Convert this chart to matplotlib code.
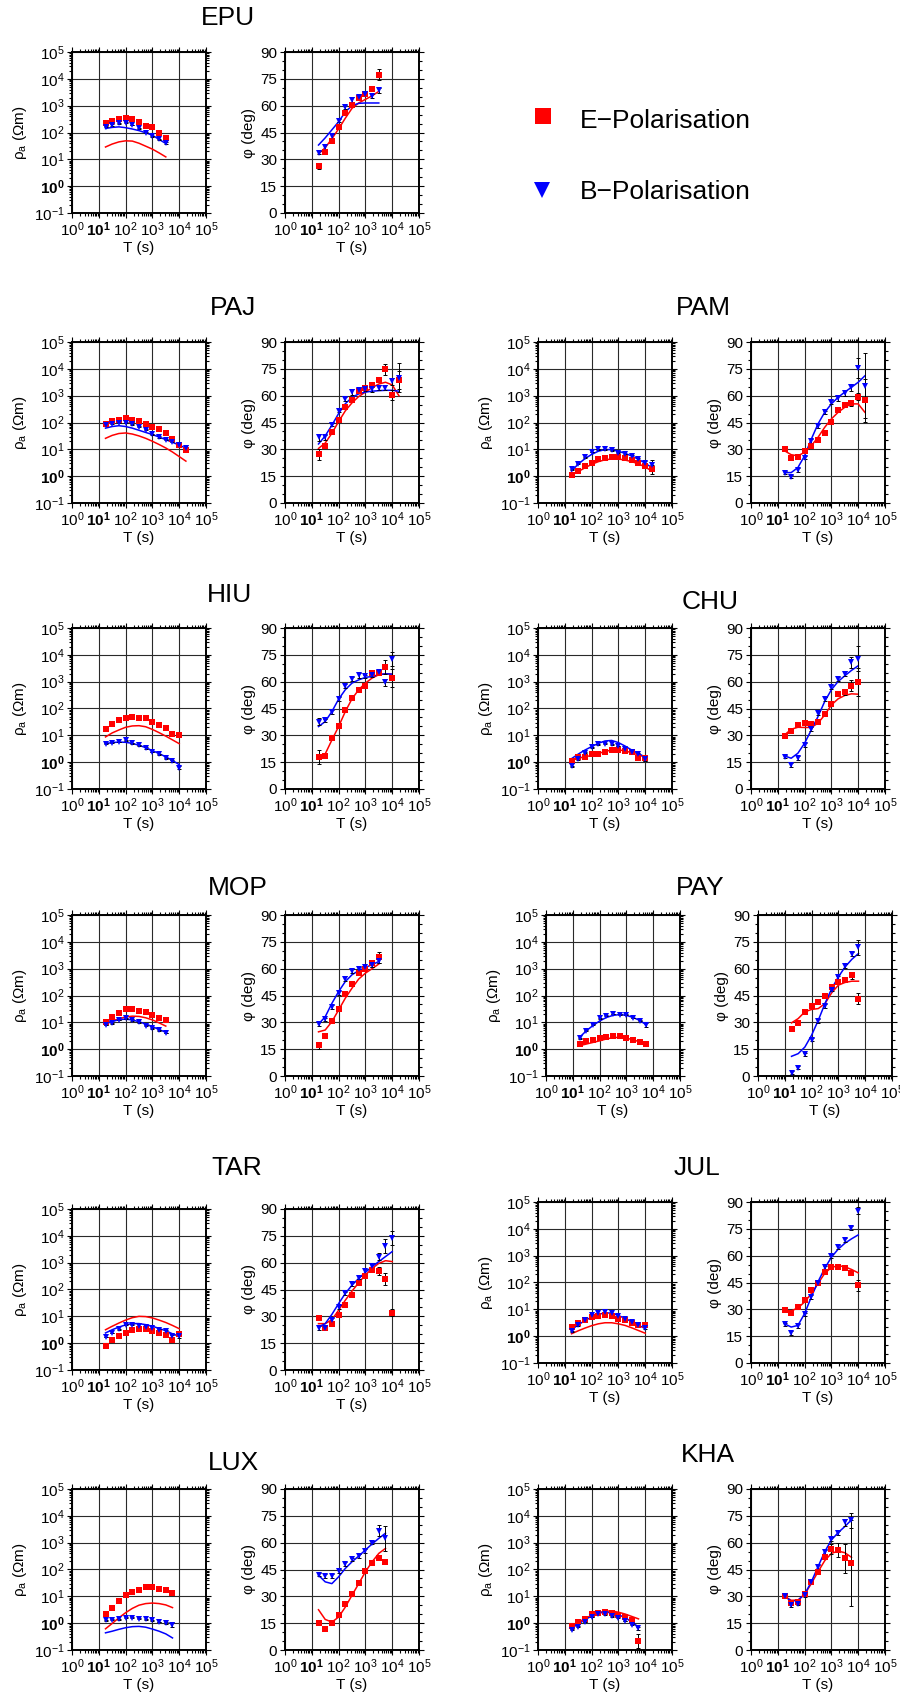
import numpy as np
import matplotlib
matplotlib.use("Agg")
import matplotlib.pyplot as plt
from matplotlib.lines import Line2D
from matplotlib.ticker import LogLocator, MultipleLocator, NullFormatter

plt.rcParams["font.family"] = ["Liberation Sans", "DejaVu Sans"]
plt.rcParams["mathtext.fontset"] = "custom"
plt.rcParams["mathtext.rm"] = "Liberation Sans"
plt.rcParams["mathtext.it"] = "Liberation Sans:italic"
plt.rcParams["mathtext.bf"] = "Liberation Sans:bold"

# periods (s), 4 per decade
PERIODS = [17.8, 31.6, 56.2, 100, 178, 316, 562, 1000, 1778, 3162, 5623, 10000, 17783]

# ---- data: log10 apparent resistivity (Ohm m), phase (deg), phase errors (deg)
EPU_RHO_E = [2.36, 2.44, 2.49, 2.53, 2.49, 2.40, 2.25, 2.19, 2.00, 1.78]
EPU_RHO_B = [2.21, 2.28, 2.34, 2.36, 2.28, 2.15, 1.99, 1.86, 1.74, 1.61]
EPU_MOD_RHO_E = [1.46, 1.57, 1.65, 1.69, 1.68, 1.60, 1.49, 1.38, 1.24, 1.09]
EPU_MOD_RHO_B = [2.15, 2.19, 2.21, 2.18, 2.13, 2.07, 1.99, 1.90, 1.74, 1.59]
EPU_PHI_E = [26.3, 33.9, 40.5, 47.8, 55.9, 60.3, 64.3, 66.6, 69.4, 77.3]
EPU_PHI_B = [33.8, 36.9, 43.1, 51.6, 59.3, 63.4, 64.9, 66.6, 65.3, 68.6]
EPU_MOD_PHI_E = [33.0, 36.5, 41.5, 47.0, 53.0, 58.5, 61.5, 63.5, 65.5, 68.0]
EPU_MOD_PHI_B = [38.0, 42.0, 46.5, 51.0, 56.5, 60.0, 61.3, 61.5, 61.5, 61.5]
EPU_DPHI_E = [1.5, 1, 1, 1, 1, 1, 1, 1, 1, 3]
EPU_DPHI_B = [1, 1.5, 1, 1, 1, 1.5, 1.5, 1, 1, 1.5]

PAJ_RHO_E = [1.94, 2.04, 2.09, 2.15, 2.10, 2.06, 1.95, 1.84, 1.74, 1.60, 1.40, 1.18, 0.98]
PAJ_RHO_B = [1.89, 1.96, 2.00, 2.00, 1.94, 1.85, 1.73, 1.56, 1.46, 1.36, 1.29, 1.16, 1.06]
PAJ_MOD_RHO_E = [1.41, 1.52, 1.59, 1.61, 1.57, 1.50, 1.41, 1.30, 1.18, 1.05, 0.90, 0.73, 0.56]
PAJ_MOD_RHO_B = [1.79, 1.85, 1.88, 1.85, 1.79, 1.71, 1.63, 1.55, 1.46, 1.36, 1.26, 1.16, 1.04]
PAJ_PHI_E = [27.3, 31.8, 39.7, 46.4, 53.5, 57.6, 62.5, 64.4, 65.7, 68.9, 74.8, 60.4, 68.9]
PAJ_PHI_B = [36.7, 36.7, 43.8, 51.6, 58.2, 62.1, 63.4, 63.6, 63.6, 64.4, 64.4, 68.1, 70.0]
PAJ_MOD_PHI_E = [30.5, 33.5, 39.0, 45.5, 51.5, 56.0, 59.5, 62.0, 64.5, 66.5, 67.5, 66.0, 60.0]
PAJ_MOD_PHI_B = [33.0, 37.5, 43.5, 50.0, 55.5, 59.0, 61.0, 62.0, 62.5, 62.8, 63.0, 63.0, 62.5]
PAJ_DPHI_E = [3, 1, 1, 1, 1, 1, 1, 1, 1, 1.5, 3, 3, 5]
PAJ_DPHI_B = [2, 1.5, 1, 1, 1, 1.5, 1.5, 1, 1.5, 1.5, 1.5, 2, 8]

PAM_RHO_E = [0.06, 0.21, 0.38, 0.50, 0.63, 0.66, 0.73, 0.73, 0.69, 0.59, 0.50, 0.38, 0.25]
PAM_RHO_B = [0.25, 0.46, 0.71, 0.90, 1.00, 1.00, 0.96, 0.88, 0.81, 0.75, 0.63, 0.50, 0.40]
PAM_MOD_RHO_E = [0.04, 0.17, 0.31, 0.44, 0.54, 0.61, 0.64, 0.64, 0.60, 0.54, 0.46, 0.34, 0.19]
PAM_MOD_RHO_B = [0.19, 0.45, 0.65, 0.81, 0.93, 0.99, 0.99, 0.93, 0.85, 0.75, 0.63, 0.48, 0.32]
PAM_PHI_E = [30.1, 25.1, 25.8, 29.2, 32.0, 35.2, 39.1, 45.5, 52.2, 54.8, 55.9, 59.5, 57.3]
PAM_PHI_B = [17.0, 14.8, 18.5, 25.4, 34.8, 43.2, 50.7, 56.3, 58.6, 61.4, 64.7, 75.4, 65.6]
PAM_MOD_PHI_E = [29.2, 27.0, 26.4, 28.3, 32.0, 36.7, 42.3, 47.0, 50.7, 53.5, 55.4, 55.4, 50.7]
PAM_MOD_PHI_B = [17.0, 17.0, 19.8, 26.4, 35.7, 44.2, 50.7, 55.4, 59.1, 62.0, 64.7, 67.5, 71.1]
PAM_DPHI_E = [1, 1, 1, 1, 1, 1, 1, 1, 1, 1, 1.5, 2, 12]
PAM_DPHI_B = [1, 1, 1, 1, 1, 1, 1, 1, 1.5, 1.5, 2, 5.5, 18]

HIU_RHO_E = [1.25, 1.44, 1.56, 1.66, 1.69, 1.66, 1.63, 1.50, 1.40, 1.29, 1.04, 1.03]
HIU_RHO_B = [0.69, 0.73, 0.75, 0.81, 0.71, 0.63, 0.53, 0.38, 0.29, 0.15, 0.04, -0.21]
HIU_MOD_RHO_E = [0.94, 1.09, 1.20, 1.30, 1.35, 1.36, 1.32, 1.22, 1.10, 0.97, 0.83, 0.69]
HIU_MOD_RHO_B = [0.69, 0.73, 0.75, 0.74, 0.70, 0.63, 0.54, 0.43, 0.32, 0.20, 0.06, -0.09]
HIU_PHI_E = [17.7, 18.7, 28.4, 35.3, 43.9, 50.8, 55.5, 57.7, 64.8, 64.8, 68.2, 62.0]
HIU_PHI_B = [37.7, 38.3, 42.9, 50.2, 57.7, 61.4, 63.5, 62.9, 63.5, 65.2, 59.6, 72.6]
HIU_MOD_PHI_E = [17.2, 19.6, 27.4, 34.9, 43.3, 50.4, 55.5, 59.2, 62.0, 63.9, 64.4, 64.2]
HIU_MOD_PHI_B = [34.9, 37.7, 43.3, 50.2, 55.5, 59.2, 61.0, 62.4, 62.9, 63.9, 64.4, 64.2]
HIU_DPHI_E = [4, 1, 1, 1, 1, 1, 1, 1, 1, 1, 4, 5]
HIU_DPHI_B = [2, 1, 1, 1, 1, 1, 1.5, 1, 1, 1, 2, 4]

CHU_RHO_E = [0.06, 0.19, 0.21, 0.29, 0.31, 0.38, 0.44, 0.44, 0.41, 0.38, 0.16, 0.16]
CHU_RHO_B = [-0.15, 0.10, 0.35, 0.56, 0.66, 0.69, 0.66, 0.60, 0.48, 0.38, 0.29, 0.13]
CHU_MOD_RHO_E = [0.10, 0.15, 0.20, 0.25, 0.32, 0.40, 0.45, 0.46, 0.42, 0.35, 0.27, 0.19]
CHU_MOD_RHO_B = [0.13, 0.30, 0.45, 0.58, 0.70, 0.79, 0.81, 0.73, 0.60, 0.45, 0.32, 0.19]
CHU_PHI_E = [29.7, 32.5, 35.9, 36.8, 36.2, 37.7, 41.8, 47.4, 53.2, 54.1, 57.7, 59.8]
CHU_PHI_B = [18.1, 13.4, 17.2, 24.6, 33.4, 42.4, 50.4, 56.9, 61.4, 64.4, 70.8, 72.8]
CHU_MOD_PHI_E = [30.2, 33.4, 34.5, 34.4, 34.4, 36.8, 41.4, 47.0, 50.4, 52.3, 53.2, 53.0]
CHU_MOD_PHI_B = [18.5, 17.2, 20.0, 25.6, 33.0, 40.5, 48.9, 55.5, 60.1, 63.3, 66.3, 68.9]
CHU_DPHI_E = [1, 1, 1, 1, 1, 1, 1, 1, 1, 1.5, 3, 8]
CHU_DPHI_B = [1, 1, 1, 1, 1, 1, 1, 1, 1, 1.5, 3, 7]

MOP_RHO_E = [1.00, 1.21, 1.35, 1.48, 1.48, 1.44, 1.38, 1.29, 1.16, 1.09]
MOP_RHO_B = [0.90, 0.96, 1.09, 1.15, 1.09, 1.00, 0.88, 0.78, 0.71, 0.60]
MOP_MOD_RHO_E = [0.96, 1.05, 1.13, 1.20, 1.23, 1.22, 1.17, 1.09, 0.98, 0.86]
MOP_MOD_RHO_B = [0.94, 1.03, 1.10, 1.12, 1.09, 1.02, 0.94, 0.84, 0.73, 0.63]
MOP_PHI_E = [17.2, 22.2, 30.8, 37.2, 45.7, 51.2, 57.3, 59.6, 63.0, 66.3]
MOP_PHI_B = [29.0, 31.7, 38.6, 46.5, 54.5, 58.6, 59.8, 60.7, 62.0, 64.4]
MOP_MOD_PHI_E = [24.7, 25.7, 30.4, 36.9, 43.5, 49.1, 54.2, 57.5, 60.0, 62.6]
MOP_MOD_PHI_B = [29.0, 33.1, 40.6, 47.2, 52.8, 56.6, 58.9, 60.7, 62.2, 64.0]
MOP_DPHI_E = [2, 1, 1, 1, 1, 1, 1, 1, 2, 3]
MOP_DPHI_B = [1, 1, 1, 1, 1.5, 1, 1, 1, 1, 1]

PAY_RHO_E = [0.19, 0.29, 0.35, 0.41, 0.46, 0.50, 0.48, 0.41, 0.34, 0.28, 0.19]
PAY_RHO_B = [0.41, 0.69, 0.91, 1.15, 1.25, 1.31, 1.29, 1.28, 1.16, 1.06, 0.90]
PAY_MOD_RHO_E = [0.13, 0.19, 0.25, 0.31, 0.38, 0.43, 0.44, 0.41, 0.35, 0.27, 0.16]
PAY_MOD_RHO_B = [0.44, 0.68, 0.88, 1.05, 1.18, 1.26, 1.29, 1.26, 1.18, 1.07, 0.90]
PAY_PHI_E = [26.5, 29.9, 35.9, 39.2, 41.4, 44.8, 49.5, 52.6, 53.9, 56.3, 43.3]
PAY_PHI_B = [1.9, 4.7, 12.1, 20.3, 30.6, 39.0, 48.3, 55.1, 61.4, 68.1, 71.9]
PAY_MOD_PHI_E = [29.7, 32.1, 35.9, 37.2, 37.7, 40.5, 46.5, 50.8, 52.3, 53.0, 53.0]
PAY_MOD_PHI_B = [11.0, 12.5, 16.2, 22.8, 31.2, 40.5, 48.9, 55.4, 61.0, 65.2, 68.5]
PAY_DPHI_E = [1, 1, 1, 1, 1, 1, 1, 1, 1, 2, 3]
PAY_DPHI_B = [1, 1, 1, 1, 1, 1, 1, 1, 1, 1, 4]

TAR_RHO_E = [-0.09, 0.10, 0.25, 0.39, 0.48, 0.51, 0.51, 0.44, 0.39, 0.29, 0.13, 0.35]
TAR_RHO_B = [0.23, 0.38, 0.51, 0.69, 0.69, 0.64, 0.60, 0.56, 0.50, 0.45, 0.25, 0.25]
TAR_MOD_RHO_E = [0.50, 0.63, 0.75, 0.86, 0.95, 1.00, 0.99, 0.94, 0.86, 0.77, 0.66, 0.54]
TAR_MOD_RHO_B = [0.38, 0.50, 0.60, 0.68, 0.73, 0.73, 0.69, 0.63, 0.55, 0.46, 0.35, 0.25]
TAR_PHI_E = [29.3, 23.4, 25.9, 30.6, 36.6, 42.2, 48.4, 52.5, 55.9, 55.3, 50.8, 32.1]
TAR_PHI_B = [23.4, 23.6, 28.1, 35.3, 42.8, 48.0, 51.6, 55.3, 58.1, 63.4, 69.4, 73.7]
TAR_MOD_PHI_E = [25.9, 25.9, 28.1, 33.4, 39.0, 44.1, 48.8, 53.1, 56.8, 59.6, 61.1, 60.6]
TAR_MOD_PHI_B = [24.0, 25.9, 31.1, 37.1, 42.8, 47.4, 51.2, 54.6, 57.8, 60.6, 63.4, 66.2]
TAR_DPHI_E = [1, 1, 1, 1, 1, 1, 1, 1, 1, 2, 3.5, 2]
TAR_DPHI_B = [1, 1, 1, 1, 1, 1, 1, 1, 1.5, 2, 4, 4]

JUL_RHO_E = [0.36, 0.49, 0.61, 0.71, 0.75, 0.78, 0.75, 0.65, 0.59, 0.50, 0.43, 0.40]
JUL_RHO_B = [0.18, 0.40, 0.59, 0.78, 0.86, 0.90, 0.86, 0.75, 0.65, 0.53, 0.43, 0.30]
JUL_MOD_RHO_E = [0.09, 0.20, 0.30, 0.39, 0.46, 0.50, 0.50, 0.46, 0.40, 0.31, 0.21, 0.11]
JUL_MOD_RHO_B = [0.24, 0.42, 0.58, 0.71, 0.81, 0.87, 0.86, 0.77, 0.66, 0.54, 0.41, 0.28]
JUL_PHI_E = [29.8, 28.1, 31.3, 35.4, 40.7, 45.0, 50.6, 53.8, 53.8, 52.9, 50.1, 43.5]
JUL_PHI_B = [21.6, 16.9, 20.6, 27.2, 36.9, 44.8, 53.4, 59.8, 64.7, 68.8, 75.4, 85.1]
JUL_MOD_PHI_E = [29.4, 29.1, 30.8, 34.1, 38.8, 44.4, 50.1, 53.4, 54.4, 53.8, 52.3, 50.4]
JUL_MOD_PHI_B = [21.9, 20.1, 21.0, 27.6, 36.9, 45.4, 52.9, 59.1, 63.6, 66.9, 69.4, 71.6]
JUL_DPHI_E = [1, 1, 1, 1, 1, 1, 1, 1, 1, 1, 1, 3]
JUL_DPHI_B = [1, 1, 1, 1, 1, 1, 1, 1, 1, 1, 1, 2]

LUX_RHO_E = [0.35, 0.58, 0.83, 1.04, 1.16, 1.25, 1.33, 1.33, 1.29, 1.25, 1.13]
LUX_RHO_B = [0.10, 0.13, 0.14, 0.20, 0.20, 0.16, 0.14, 0.10, 0.04, 0.01, -0.05]
LUX_MOD_RHO_E = [-0.21, -0.01, 0.20, 0.39, 0.55, 0.67, 0.73, 0.75, 0.73, 0.68, 0.58]
LUX_MOD_RHO_B = [-0.36, -0.30, -0.23, -0.17, -0.13, -0.12, -0.15, -0.22, -0.30, -0.40, -0.55]
LUX_PHI_E = [15.0, 11.8, 15.0, 19.3, 25.5, 31.1, 37.7, 44.3, 48.9, 51.2, 49.3]
LUX_PHI_B = [42.2, 41.3, 41.3, 44.3, 48.0, 50.6, 52.7, 55.3, 60.0, 66.6, 62.4]
LUX_MOD_PHI_E = [22.5, 17.1, 15.6, 18.4, 24.0, 30.6, 37.1, 43.7, 49.3, 54.0, 56.8]
LUX_MOD_PHI_B = [41.8, 38.1, 37.1, 40.9, 45.6, 49.3, 52.5, 55.9, 59.3, 62.4, 65.3]
LUX_DPHI_E = [1, 1, 1, 1, 1, 1, 1, 1, 1, 1, 1]
LUX_DPHI_B = [1, 1, 1, 1, 1, 1, 1, 1, 1, 3, 7]

KHA_RHO_E = [-0.09, 0.04, 0.16, 0.33, 0.39, 0.41, 0.39, 0.31, 0.23, 0.10, -0.65]
KHA_RHO_B = [-0.25, -0.13, 0.04, 0.23, 0.33, 0.33, 0.26, 0.20, 0.08, -0.05, -0.19]
KHA_MOD_RHO_E = [-0.13, 0.03, 0.17, 0.29, 0.39, 0.45, 0.45, 0.41, 0.34, 0.25, 0.16]
KHA_MOD_RHO_B = [-0.19, -0.03, 0.12, 0.27, 0.37, 0.41, 0.39, 0.32, 0.20, 0.05, -0.15]
KHA_PHI_E = [30.0, 26.3, 26.8, 31.1, 38.1, 43.7, 51.8, 56.4, 55.9, 51.2, 48.4]
KHA_PHI_B = [30.0, 25.3, 25.9, 30.6, 38.1, 46.5, 54.9, 61.9, 65.3, 71.3, 72.4]
KHA_MOD_PHI_E = [30.0, 27.8, 27.8, 31.1, 37.1, 43.7, 49.9, 54.0, 55.3, 54.4, 51.8]
KHA_MOD_PHI_B = [30.0, 27.4, 27.8, 31.1, 38.1, 46.5, 54.9, 61.5, 65.6, 69.0, 72.8]
KHA_DPHI_E = [1, 1, 1, 1, 1, 1, 1, 3, 4, 8, 24]
KHA_DPHI_B = [1, 1, 1, 1, 1, 1, 1, 1, 1, 2, 4]

STATIONS = {
    "EPU": (EPU_RHO_E, EPU_RHO_B, EPU_MOD_RHO_E, EPU_MOD_RHO_B, EPU_PHI_E, EPU_PHI_B,
            EPU_MOD_PHI_E, EPU_MOD_PHI_B, EPU_DPHI_E, EPU_DPHI_B),
    "PAJ": (PAJ_RHO_E, PAJ_RHO_B, PAJ_MOD_RHO_E, PAJ_MOD_RHO_B, PAJ_PHI_E, PAJ_PHI_B,
            PAJ_MOD_PHI_E, PAJ_MOD_PHI_B, PAJ_DPHI_E, PAJ_DPHI_B),
    "PAM": (PAM_RHO_E, PAM_RHO_B, PAM_MOD_RHO_E, PAM_MOD_RHO_B, PAM_PHI_E, PAM_PHI_B,
            PAM_MOD_PHI_E, PAM_MOD_PHI_B, PAM_DPHI_E, PAM_DPHI_B),
    "HIU": (HIU_RHO_E, HIU_RHO_B, HIU_MOD_RHO_E, HIU_MOD_RHO_B, HIU_PHI_E, HIU_PHI_B,
            HIU_MOD_PHI_E, HIU_MOD_PHI_B, HIU_DPHI_E, HIU_DPHI_B),
    "CHU": (CHU_RHO_E, CHU_RHO_B, CHU_MOD_RHO_E, CHU_MOD_RHO_B, CHU_PHI_E, CHU_PHI_B,
            CHU_MOD_PHI_E, CHU_MOD_PHI_B, CHU_DPHI_E, CHU_DPHI_B),
    "MOP": (MOP_RHO_E, MOP_RHO_B, MOP_MOD_RHO_E, MOP_MOD_RHO_B, MOP_PHI_E, MOP_PHI_B,
            MOP_MOD_PHI_E, MOP_MOD_PHI_B, MOP_DPHI_E, MOP_DPHI_B),
    "PAY": (PAY_RHO_E, PAY_RHO_B, PAY_MOD_RHO_E, PAY_MOD_RHO_B, PAY_PHI_E, PAY_PHI_B,
            PAY_MOD_PHI_E, PAY_MOD_PHI_B, PAY_DPHI_E, PAY_DPHI_B),
    "TAR": (TAR_RHO_E, TAR_RHO_B, TAR_MOD_RHO_E, TAR_MOD_RHO_B, TAR_PHI_E, TAR_PHI_B,
            TAR_MOD_PHI_E, TAR_MOD_PHI_B, TAR_DPHI_E, TAR_DPHI_B),
    "JUL": (JUL_RHO_E, JUL_RHO_B, JUL_MOD_RHO_E, JUL_MOD_RHO_B, JUL_PHI_E, JUL_PHI_B,
            JUL_MOD_PHI_E, JUL_MOD_PHI_B, JUL_DPHI_E, JUL_DPHI_B),
    "LUX": (LUX_RHO_E, LUX_RHO_B, LUX_MOD_RHO_E, LUX_MOD_RHO_B, LUX_PHI_E, LUX_PHI_B,
            LUX_MOD_PHI_E, LUX_MOD_PHI_B, LUX_DPHI_E, LUX_DPHI_B),
    "KHA": (KHA_RHO_E, KHA_RHO_B, KHA_MOD_RHO_E, KHA_MOD_RHO_B, KHA_PHI_E, KHA_PHI_B,
            KHA_MOD_PHI_E, KHA_MOD_PHI_B, KHA_DPHI_E, KHA_DPHI_B),
}

# ---- layout in pixels: rho-panel left, panel top, phase-panel left, title x, title y
LAYOUT = {
    "EPU": (72, 52, 285, 228, 18),
    "PAJ": (72, 342, 285, 233, 308),
    "HIU": (72, 628, 285, 230, 595),
    "MOP": (72, 915, 285, 238, 888),
    "TAR": (72, 1209, 285, 237, 1168),
    "LUX": (72, 1489, 285, 233, 1463),
    "PAM": (538, 342, 751, 703, 308),
    "CHU": (538, 628, 751, 710, 602),
    "PAY": (546, 915, 758, 700, 888),
    "JUL": (538, 1202, 751, 697, 1168),
    "KHA": (538, 1489, 751, 708, 1455),
}
W, H = 900, 1695
PW, PH = 134, 161
RED, BLUE = "#ff0000", "#0000ff"
TICK_FS = 11

fig = plt.figure(figsize=(W / 100, H / 100), dpi=100)


def rect(left, top):
    return [left / W, 1 - (top + PH) / H, PW / W, PH / H]


def style(ax):
    for s in ax.spines.values():
        s.set_linewidth(1.4)
    ax.set_axisbelow(True)
    ax.grid(True, which="major", color="#2a2a2a", lw=0.8)
    ax.tick_params(which="both", direction="out", top=True, right=True,
                   width=0.8, labelsize=TICK_FS, pad=2)
    ax.tick_params(which="major", length=3.5)
    ax.tick_params(which="minor", length=2)
    ax.set_xscale("log")
    ax.set_xlim(1, 1e5)
    xt = [1, 10, 100, 1e3, 1e4, 1e5]
    xl = [r"$\mathregular{10^{%d}}$" % i for i in range(6)]
    xl[1] = r"$\mathbf{10^{1}}$"
    ax.set_xticks(xt, xl)
    ax.xaxis.set_minor_locator(LogLocator(base=10, subs=np.arange(2, 10), numticks=20))
    ax.xaxis.set_minor_formatter(NullFormatter())
    ax.set_xlabel("T (s)", fontsize=TICK_FS, labelpad=1)


def draw(name):
    rho_e, rho_b, mrho_e, mrho_b, phi_e, phi_b, mphi_e, mphi_b, dphi_e, dphi_b = STATIONS[name]
    xl, top, xp, tx, ty = LAYOUT[name]
    T = np.array(PERIODS[:len(rho_e)])

    # apparent resistivity
    ax = fig.add_axes(rect(xl, top))
    style(ax)
    ax.set_yscale("log")
    ax.set_ylim(0.1, 1e5)
    yt = [0.1, 1, 10, 100, 1e3, 1e4, 1e5]
    yl = [r"$\mathregular{10^{%d}}$" % i for i in range(-1, 6)]
    yl[1] = r"$\mathbf{10^{0}}$"
    ax.set_yticks(yt, yl)
    ax.yaxis.set_minor_locator(LogLocator(base=10, subs=np.arange(2, 10), numticks=20))
    ax.yaxis.set_minor_formatter(NullFormatter())
    ax.set_ylabel(r"ρ$_\mathregular{a}$ (Ωm)", fontsize=TICK_FS, labelpad=3)
    for lr, mr, dp, col, mk in ((rho_e, mrho_e, dphi_e, RED, "s"),
                                (rho_b, mrho_b, dphi_b, BLUE, "v")):
        r = 10 ** np.array(lr)
        f = 1 + 2 * np.radians(dp)  # delta rho / rho = 2 delta phi
        ax.plot(T, 10 ** np.array(mr), color=col, lw=1.1, zorder=3)
        ax.errorbar(T, r, yerr=[r - r / f, r * f - r], fmt="none", ecolor="k",
                    elinewidth=0.7, capsize=1.2, capthick=0.7, zorder=3.5)
        ax.plot(T, r, ls="none", marker=mk, color=col, ms=4.3, mew=0, zorder=4)

    # phase
    ax = fig.add_axes(rect(xp, top))
    style(ax)
    ax.set_ylim(0, 90)
    ax.yaxis.set_major_locator(MultipleLocator(15))
    ax.yaxis.set_minor_locator(MultipleLocator(5))
    ax.set_ylabel("φ (deg)", fontsize=TICK_FS, labelpad=3)
    for ph, mp, dp, col, mk in ((phi_e, mphi_e, dphi_e, RED, "s"),
                                (phi_b, mphi_b, dphi_b, BLUE, "v")):
        ax.plot(T, mp, color=col, lw=1.1, zorder=3)
        ax.errorbar(T, ph, yerr=dp, fmt="none", ecolor="k", elinewidth=0.7,
                    capsize=1.2, capthick=0.7, zorder=3.5)
        ax.plot(T, ph, ls="none", marker=mk, color=col, ms=4.3, mew=0, zorder=4,
                clip_on=False)

    fig.text(tx / W, 1 - ty / H, name, fontsize=19, ha="center", va="center")


for name in STATIONS:
    draw(name)

# legend
fig.add_artist(Line2D([543 / W], [1 - 116 / H], marker="s", color=RED, ms=11.5,
                      mew=0, ls="none", transform=fig.transFigure))
fig.add_artist(Line2D([542 / W], [1 - 190 / H], marker="v", color=BLUE, ms=12,
                      mew=0, ls="none", transform=fig.transFigure))
fig.text(580 / W, 1 - 121 / H, "E\u2212Polarisation", fontsize=19, va="center")
fig.text(580 / W, 1 - 192 / H, "B\u2212Polarisation", fontsize=19, va="center")

fig.savefig("out.png", dpi=100, facecolor="white")
